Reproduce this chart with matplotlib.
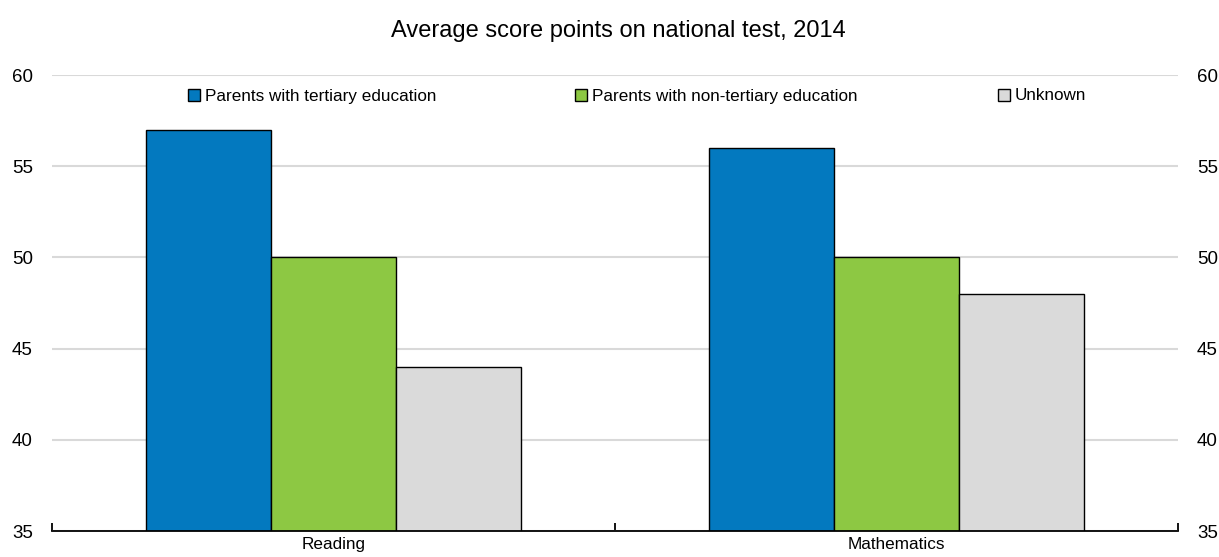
import matplotlib
matplotlib.use("Agg")
import matplotlib.pyplot as plt
from matplotlib.patches import Patch
import numpy as np

categories = ["Reading", "Mathematics"]
series_names = ["Parents with tertiary education", "Parents with non-tertiary education", "Unknown"]
tertiary = [57, 56]
non_tertiary = [50, 50]
unknown = [44, 48]
colors = ["#0379BF", "#8DC843", "#DADADA"]
yticks = [35, 40, 45, 50, 55, 60]
title = "Average score points on national test, 2014"

plt.rcParams['font.family'] = ['Liberation Sans', 'DejaVu Sans']

W, H = 1219, 557
fig = plt.figure(figsize=(W / 100, H / 100), dpi=100)
ax = fig.add_axes([52 / W, (H - 531) / H, (1178 - 52) / W, (531 - 75) / H])

x = np.arange(len(categories))
bw = 0.222
series = [tertiary, non_tertiary, unknown]
for i, (vals, name, c) in enumerate(zip(series, series_names, colors)):
    ax.bar(x + (i - 1) * bw, vals, width=bw, color=c, edgecolor="black",
           linewidth=1.0, label=name, zorder=3)

ax.set_xlim(-0.5, len(categories) - 0.5)
ax.set_ylim(35, 60)
ax.set_yticks(yticks)
ax.yaxis.grid(True, color="#D9D9D9", linewidth=1.5, zorder=0)
ax.set_axisbelow(True)
for s in ["left", "right", "top"]:
    ax.spines[s].set_visible(False)
ax.spines["bottom"].set_linewidth(1.3)
ax.spines["bottom"].set_zorder(4)

ax.set_xticks(np.arange(-0.5, len(categories), 1.0))
ax.set_xticklabels([])
ax.tick_params(axis="x", which="major", direction="in", length=6, width=1.3)
ax.set_xticks(x, minor=True)
ax.set_xticklabels(categories, minor=True)
ax.tick_params(axis="x", which="minor", length=0, pad=4, labelsize=12.3)

ax.tick_params(axis="y", which="both", length=0, labelsize=13.5, pad=13.7,
               labelright=True, labelleft=True)

fig.text(618 / W, (H - 31) / H, title, ha="center", va="center", fontsize=17)

legend_x = [188, 575, 998]
for name, c, lx in zip(series_names, colors, legend_x):
    h = Patch(facecolor=c, edgecolor="black", linewidth=1.0)
    fig.legend([h], [name], loc="center left", bbox_to_anchor=(lx / W, (H - 96) / H),
               frameon=False, fontsize=12.3, handlelength=0.7, handleheight=0.7,
               handletextpad=0.3, borderpad=0, borderaxespad=0)

fig.savefig("out.png", dpi=100)
